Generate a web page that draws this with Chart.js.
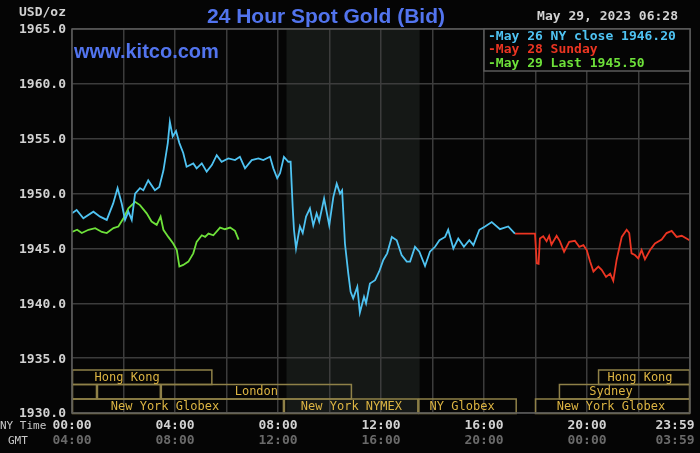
<!DOCTYPE html>
<html>
<head>
<meta charset="utf-8">
<script src="https://cdn.jsdelivr.net/npm/chart.js@4/dist/chart.umd.min.js"></script>
<style>
  html, body { margin: 0; padding: 0; background: #050505; }
  #wrap { width: 700px; height: 453px; }
</style>
</head>
<body>
<div id="wrap"><canvas id="gold"></canvas></div>
<script>
// hours since 00:00 NY time, price in USD/oz
const may26Hours = [0, 0.18, 0.44, 0.83, 1.09, 1.35, 1.6, 1.77, 1.93, 2.06, 2.19, 2.32, 2.45, 2.64, 2.77, 2.96, 3.22, 3.39, 3.55, 3.72, 3.8, 3.91, 4.04, 4.17, 4.32, 4.45, 4.71, 4.84, 5.04, 5.23, 5.43, 5.62, 5.81, 6.07, 6.33, 6.52, 6.72, 6.98, 7.24, 7.43, 7.69, 7.82, 7.97, 8.08, 8.23, 8.4, 8.49, 8.57, 8.62, 8.7, 8.85, 8.96, 9.09, 9.24, 9.37, 9.5, 9.6, 9.79, 9.99, 10.15, 10.28, 10.41, 10.49, 10.6, 10.73, 10.82, 10.92, 11.08, 11.18, 11.34, 11.42, 11.57, 11.77, 11.93, 12.09, 12.24, 12.42, 12.61, 12.8, 13.0, 13.13, 13.32, 13.49, 13.71, 13.9, 14.1, 14.27, 14.49, 14.61, 14.81, 15.0, 15.22, 15.43, 15.59, 15.82, 16.04, 16.3, 16.62, 16.94, 17.2];
const may26Values = [1948.2, 1948.5, 1947.75, 1948.35, 1947.9, 1947.6, 1949.1, 1950.5, 1949.1, 1947.6, 1948.35, 1947.6, 1950.0, 1950.5, 1950.3, 1951.2, 1950.3, 1950.6, 1952.1, 1954.6, 1956.55, 1955.2, 1955.7, 1954.6, 1953.7, 1952.45, 1952.75, 1952.3, 1952.75, 1952.0, 1952.6, 1953.5, 1952.9, 1953.2, 1953.05, 1953.35, 1952.3, 1953.05, 1953.2, 1953.05, 1953.35, 1952.3, 1951.4, 1951.85, 1953.35, 1952.9, 1952.9, 1948.8, 1946.7, 1945.0, 1947.0, 1946.4, 1947.9, 1948.65, 1947.1, 1948.2, 1947.45, 1949.55, 1947.1, 1949.7, 1950.9, 1950.0, 1950.3, 1945.45, 1942.7, 1941.05, 1940.45, 1941.5, 1939.15, 1940.6, 1940.0, 1941.8, 1942.1, 1942.9, 1943.95, 1944.55, 1946.05, 1945.75, 1944.4, 1943.8, 1943.8, 1945.15, 1944.7, 1943.4, 1944.7, 1945.15, 1945.75, 1946.05, 1946.7, 1945.0, 1945.9, 1945.15, 1945.75, 1945.3, 1946.7, 1947.0, 1947.4, 1946.75, 1947.0, 1946.35];

const may28Hours = [17.2, 17.98, 18.05, 18.12, 18.17, 18.3, 18.43, 18.53, 18.62, 18.82, 18.95, 19.11, 19.31, 19.53, 19.7, 19.86, 19.99, 20.12, 20.25, 20.44, 20.57, 20.74, 20.9, 21.02, 21.15, 21.35, 21.54, 21.64, 21.73, 21.86, 21.99, 22.12, 22.25, 22.45, 22.64, 22.9, 23.09, 23.29, 23.48, 23.68, 23.98];
const may28Values = [1946.35, 1946.35, 1943.65, 1943.6, 1945.9, 1946.1, 1945.65, 1946.15, 1945.35, 1946.15, 1945.65, 1944.7, 1945.6, 1945.7, 1945.15, 1945.3, 1944.85, 1943.8, 1942.9, 1943.35, 1943.05, 1942.4, 1942.7, 1942.05, 1943.95, 1946.05, 1946.7, 1946.4, 1944.55, 1944.4, 1944.1, 1944.85, 1944.0, 1944.85, 1945.45, 1945.8, 1946.4, 1946.6, 1946.05, 1946.15, 1945.75];

const may29Hours = [0, 0.2, 0.38, 0.64, 0.9, 1.16, 1.35, 1.61, 1.8, 2.0, 2.19, 2.45, 2.64, 2.9, 3.09, 3.29, 3.44, 3.55, 3.74, 3.93, 4.07, 4.17, 4.32, 4.52, 4.71, 4.84, 5.04, 5.17, 5.3, 5.49, 5.75, 5.94, 6.14, 6.33, 6.47];
const may29Values = [1946.5, 1946.7, 1946.4, 1946.7, 1946.85, 1946.5, 1946.4, 1946.85, 1947.0, 1947.75, 1948.65, 1949.25, 1948.95, 1948.2, 1947.45, 1947.15, 1947.9, 1946.7, 1946.05, 1945.45, 1944.85, 1943.35, 1943.5, 1943.8, 1944.55, 1945.6, 1946.2, 1946.05, 1946.35, 1946.2, 1946.9, 1946.75, 1946.9, 1946.6, 1945.8];

const legendLabels = ['May 26 NY close 1946.20', 'May 28 Sunday', 'May 29 Last 1945.50'];

const yTicks = [1930, 1935, 1940, 1945, 1950, 1955, 1960, 1965];
const nyTimeTicks = [0, 4, 8, 12, 16, 20, 23.98];
const nyTimeLabels = ['00:00', '04:00', '08:00', '12:00', '16:00', '20:00', '23:59'];
const gmtLabels = ['04:00', '08:00', '12:00', '16:00', '20:00', '00:00', '03:59'];

// NYMEX pit hours (shaded)
const pitHours = [8.33, 13.5];

// market sessions: row, start hour, end hour, label, label centre hour
const sessionRows = [0, 0, 1, 1, 1, 1, 2, 2, 2, 2];
const sessionStart = [0, 20.43, 0, 0.97, 3.45, 18.91, 0, 8.23, 13.45, 17.98];
const sessionEnd = [5.45, 24, 0.97, 3.45, 10.87, 24, 8.23, 13.45, 17.27, 24];
const sessionNames = ['Hong Kong', 'Hong Kong', '', '', 'London', 'Sydney', 'New York Globex', 'New York NYMEX', 'NY Globex', 'New York Globex'];
const sessionLabelAt = [2.14, 22.06, 0, 0, 7.16, 20.93, 3.61, 10.85, 15.15, 20.93];

const BLUE = '#4fc3f2';
const RED = '#ec3522';
const GREEN = '#6ee13a';
const MONO = 'bold 13px "DejaVu Sans Mono", "Liberation Mono", monospace';

const pairs = (hs, vs) => hs.map((h, i) => ({ x: h, y: vs[i] }));

const kitcoDecor = {
  id: 'kitcoDecor',
  beforeDraw(chart) {
    const { ctx, chartArea: a, scales: { x } } = chart;
    ctx.save();
    ctx.fillStyle = '#050505';
    ctx.fillRect(0, 0, chart.width, chart.height);
    const x0 = x.getPixelForValue(pitHours[0]);
    const x1 = x.getPixelForValue(pitHours[1]);
    ctx.fillStyle = '#151816';
    ctx.fillRect(x0, a.top, x1 - x0, a.bottom - a.top);
    ctx.restore();
  },
  afterDraw(chart) {
    const { ctx, chartArea: a, scales: { x, y } } = chart;
    ctx.save();

    // sessions
    const rowH = 14.5;
    ctx.font = '12px "DejaVu Sans Mono", monospace';
    ctx.textAlign = 'center';
    ctx.textBaseline = 'middle';
    sessionRows.forEach((r, i) => {
      const top = a.bottom - (3 - r) * rowH;
      const l = x.getPixelForValue(sessionStart[i]);
      const rt = x.getPixelForValue(sessionEnd[i]);
      ctx.strokeStyle = '#8f8148';
      ctx.lineWidth = 1.5;
      ctx.strokeRect(l + 0.5, top + 0.5, rt - l - 1, rowH);
      if (sessionNames[i]) {
        ctx.fillStyle = '#dcb443';
        ctx.fillText(sessionNames[i], x.getPixelForValue(sessionLabelAt[i]), top + rowH / 2 + 1);
      }
    });

    // plot frame
    ctx.strokeStyle = '#5a5a5a';
    ctx.lineWidth = 1.5;
    ctx.strokeRect(a.left, a.top, a.right - a.left, a.bottom - a.top);

    // y labels
    ctx.font = MONO;
    ctx.fillStyle = '#d2d2d2';
    ctx.textAlign = 'right';
    yTicks.forEach(v => ctx.fillText(v.toFixed(1), 66, y.getPixelForValue(v) + 1));
    ctx.fillText('USD/oz', 66, 13);

    // x labels
    ctx.textAlign = 'center';
    nyTimeTicks.forEach((h, i) => {
      const px = Math.min(x.getPixelForValue(h), 675);
      ctx.fillStyle = '#d2d2d2';
      ctx.fillText(nyTimeLabels[i], px, 426);
      ctx.fillStyle = '#6a6a6a';
      ctx.fillText(gmtLabels[i], px, 441);
    });
    ctx.font = '11px "DejaVu Sans Mono", monospace';
    ctx.textAlign = 'left';
    ctx.fillStyle = '#c8c8c8';
    ctx.fillText('NY Time', 0, 426);
    ctx.fillText('GMT', 8, 441);

    // title + site
    ctx.font = 'bold 21px "Liberation Sans", Arial, sans-serif';
    ctx.fillStyle = '#5274ee';
    ctx.textAlign = 'center';
    ctx.fillText('24 Hour Spot Gold (Bid)', 326, 17);
    ctx.font = 'bold 20px "Liberation Sans", Arial, sans-serif';
    ctx.textAlign = 'left';
    ctx.fillText('www.kitco.com', 74, 52);

    // date
    ctx.font = MONO;
    ctx.fillStyle = '#d2d2d2';
    ctx.textAlign = 'right';
    ctx.fillText('May 29, 2023 06:28', 678, 17);

    // legend
    const lx = 484, ly = a.top;
    ctx.fillStyle = '#050505';
    ctx.fillRect(lx, ly, a.right - lx, 42);
    ctx.strokeStyle = '#5a5a5a';
    ctx.lineWidth = 1.5;
    ctx.strokeRect(lx, ly, a.right - lx, 42);
    ctx.textAlign = 'left';
    const cols = [BLUE, RED, GREEN];
    legendLabels.forEach((t, i) => {
      ctx.fillStyle = cols[i];
      ctx.fillText('-' + t, 488, ly + 7.5 + i * 13.5);
    });

    ctx.restore();
  }
};

new Chart(document.getElementById('gold'), {
  type: 'line',
  data: {
    datasets: [
      { label: legendLabels[0], data: pairs(may26Hours, may26Values), borderColor: BLUE },
      { label: legendLabels[1], data: pairs(may28Hours, may28Values), borderColor: RED },
      { label: legendLabels[2], data: pairs(may29Hours, may29Values), borderColor: GREEN }
    ]
  },
  options: {
    responsive: true,
    maintainAspectRatio: false,
    animation: false,
    layout: { padding: { left: 72, top: 29, right: 10, bottom: 40 } },
    elements: {
      line: { borderWidth: 1.8, tension: 0 },
      point: { radius: 0 }
    },
    plugins: { legend: { display: false }, tooltip: { enabled: false } },
    scales: {
      x: {
        type: 'linear', min: 0, max: 24,
        ticks: { stepSize: 2, display: false },
        grid: { color: '#3c3c3c', lineWidth: 1.5, drawTicks: false },
        border: { display: false }
      },
      y: {
        min: 1930, max: 1965,
        ticks: { stepSize: 5, display: false },
        grid: { color: '#3c3c3c', lineWidth: 1.5, drawTicks: false },
        border: { display: false }
      }
    }
  },
  plugins: [kitcoDecor]
});
</script>
</body>
</html>
